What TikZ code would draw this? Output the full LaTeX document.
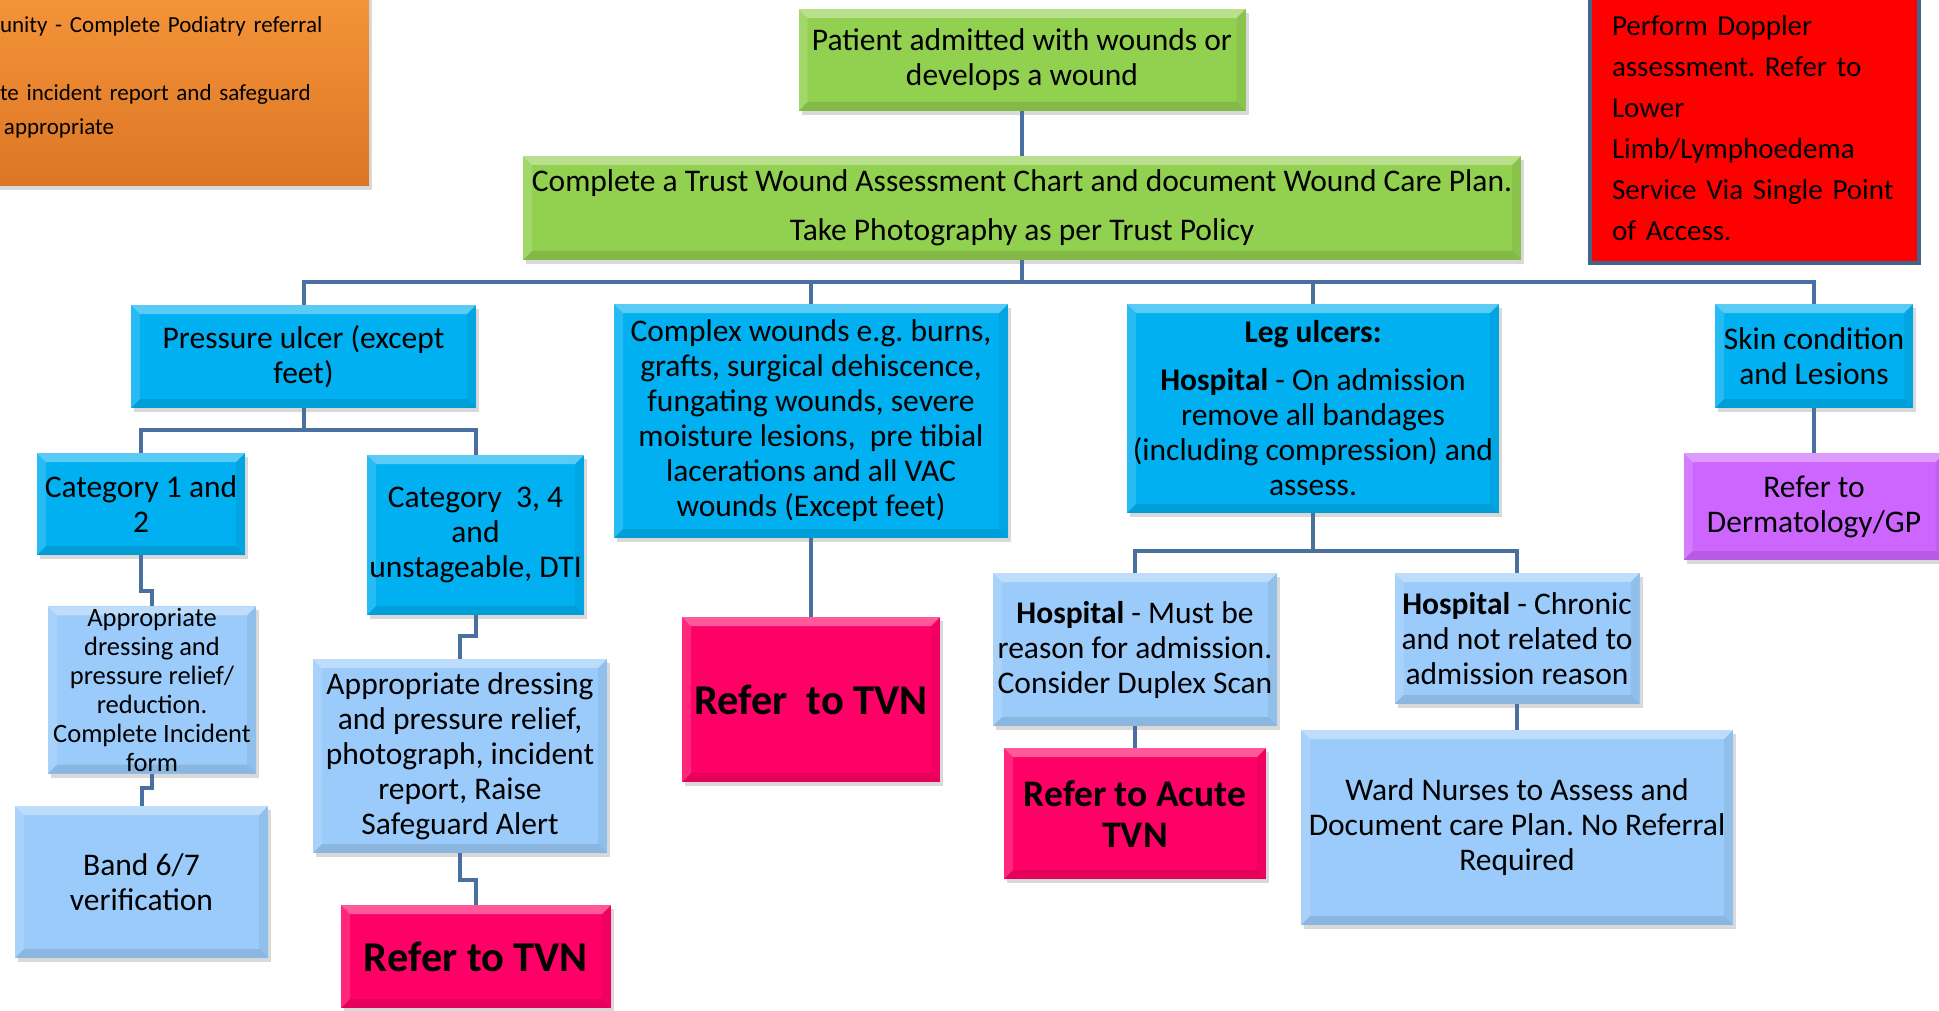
\documentclass[tikz,border=0pt]{standalone}
\usepackage{fontspec}
\setmainfont{Carlito}
\usetikzlibrary{shadows}
\frenchspacing

\definecolor{wgreen}{RGB}{146,208,80}
\definecolor{wblue}{RGB}{0,176,240}
\definecolor{wpale}{RGB}{155,203,250}
\definecolor{wpink}{RGB}{255,0,102}
\definecolor{wpurple}{RGB}{204,102,255}
\definecolor{wred}{RGB}{255,0,0}
\definecolor{wframe}{RGB}{68,100,140}
\definecolor{wlink}{RGB}{74,112,160}
\definecolor{worange}{RGB}{248,152,60}
\definecolor{worangedk}{RGB}{220,118,36}

\tikzset{
  bevel/.style={path picture={
      \fill[white,opacity=.35] (path picture bounding box.north west) -- (path picture bounding box.north east)
        -- ([shift={(-9pt,-9pt)}]path picture bounding box.north east) -- ([shift={(9pt,-9pt)}]path picture bounding box.north west) -- cycle;
      \fill[white,opacity=.15] (path picture bounding box.north west) -- (path picture bounding box.south west)
        -- ([shift={(9pt,9pt)}]path picture bounding box.south west) -- ([shift={(9pt,-9pt)}]path picture bounding box.north west) -- cycle;
      \fill[black,opacity=.10] (path picture bounding box.south west) -- (path picture bounding box.south east)
        -- ([shift={(-9pt,9pt)}]path picture bounding box.south east) -- ([shift={(9pt,9pt)}]path picture bounding box.south west) -- cycle;
      \fill[black,opacity=.06] (path picture bounding box.north east) -- (path picture bounding box.south east)
        -- ([shift={(-9pt,9pt)}]path picture bounding box.south east) -- ([shift={(-9pt,-9pt)}]path picture bounding box.north east) -- cycle;
    }},
  wh/.style 2 args={minimum width=#1pt, minimum height=#2pt},
  wbox/.style={rectangle, align=center, inner sep=2pt, bevel,
               drop shadow={shadow xshift=3pt, shadow yshift=-4pt, opacity=.3}},
  greenbox/.style={wbox, fill=wgreen},
  bluebox/.style={wbox, fill=wblue},
  palebox/.style={wbox, fill=wpale},
  referbox/.style={wbox, fill=wpink, font=\fontsize{42.5}{46}\selectfont\bfseries},
  dermbox/.style={wbox, fill=wpurple},
  conn/.style={draw=wlink, line width=4pt}
}

\begin{document}
\begin{tikzpicture}[x=1pt, y=-1pt, every node/.style={font=\fontsize{31.5}{35}\selectfont}]
  \useasboundingbox (0,0) rectangle (1939,1011);

  \node[rectangle, top color=worange, bottom color=worangedk, wh={379}{217},
        drop shadow={shadow xshift=3pt, shadow yshift=-4pt, opacity=.3},
        align=left, text width=359pt, inner xsep=10pt, font=\fontsize{23}{34}\selectfont]
    (community) at (179.5,77.5)
    {unity - Complete Podiatry referral\\[34pt]te incident report and safeguard\\\hspace*{4pt}appropriate};

  \node[rectangle, fill=wred, draw=wframe, line width=4pt, wh={329}{269},
        align=left, text width=285pt, inner xsep=20pt, font=\fontsize{29}{41}\selectfont]
    (doppler) at (1754.5,128.5)
    {Perform Doppler\\assessment. Refer to\\Lower\\Limb/Lymphoedema\\Service Via Single Point\\of Access.};

  \node[greenbox, wh={447}{102}] (admit) at (1022,60) {Patient admitted with wounds or\\develops a wound};
  \node[greenbox, wh={998}{104}] (assess) at (1022,208)
    {Complete a Trust Wound Assessment Chart and document Wound Care Plan.\\[14pt]Take Photography as per Trust Policy};

  \node[bluebox, wh={345}{103}] (pressure) at (303.5,356.5) {Pressure ulcer (except\\feet)};
  \node[bluebox, wh={394}{234}] (complex) at (811,421)
    {Complex wounds e.g. burns,\\grafts, surgical dehiscence,\\fungating wounds, severe\\moisture lesions,~ pre tibial\\lacerations and all VAC\\wounds (Except feet)};
  \node[bluebox, wh={372}{209}] (leg) at (1313,408.5)
    {\textbf{Leg ulcers:}\\[13pt]\textbf{Hospital} - On admission\\remove all bandages\\(including compression) and\\assess.};
  \node[bluebox, wh={198}{104}] (skin) at (1814,356) {Skin condition\\and Lesions};

  \node[bluebox, wh={208}{102}] (cat12) at (141,504) {Category 1 and\\2};
  \node[bluebox, wh={217}{160}] (cat34) at (475.5,535) {Category~~3, 4\\and\\unstageable, DTI};
  \node[palebox, wh={208}{160}, font=\fontsize{26.5}{29}\selectfont] (dresssmall) at (152,690)
    {Appropriate\\dressing and\\pressure relief/\\reduction.\\Complete Incident\\form};
  \node[palebox, wh={253}{152}] (band) at (141.5,882) {Band 6/7\\verification};
  \node[palebox, wh={294}{194}] (dressbig) at (460,756)
    {Appropriate dressing\\and pressure relief,\\photograph, incident\\report, Raise\\Safeguard Alert};
  \node[referbox, wh={270}{103}] (tvnleft) at (476,956.5) {Refer to TVN};

  \node[referbox, wh={258}{165}] (tvnmid) at (811,699.5) {Refer~ to TVN};

  \node[palebox, wh={284}{153}] (legacute) at (1135,649.5)
    {\textbf{Hospital} - Must be\\reason for admission.\\Consider Duplex Scan};
  \node[palebox, wh={245}{131}] (legchronic) at (1517,638.5)
    {\textbf{Hospital} - Chronic\\and not related to\\admission reason};
  \node[referbox, wh={262}{131}, font=\fontsize{37.5}{41}\selectfont\bfseries] (acute) at (1135,813.5) {Refer to Acute\\TVN};
  \node[palebox, wh={432}{195}] (ward) at (1517,827.5)
    {Ward Nurses to Assess and\\Document care Plan. No Referral\\Required};

  \node[dermbox, wh={261}{107}] (derm) at (1814,506.5) {Refer to\\Dermatology/GP};

  \coordinate (bus) at (0,282);
  \coordinate (pubus) at (0,430);
  \coordinate (legbus) at (0,551);

  \draw[conn] (admit.south) -- (assess.north);
  \draw[conn] (assess.south) -- (assess.south |- bus);
  \draw[conn] (pressure.north) |- (skin.north |- bus) -- (skin.north);
  \draw[conn] (complex.north) -- (complex.north |- bus);
  \draw[conn] (leg.north) -- (leg.north |- bus);

  \draw[conn] (pressure.south) -- (pressure.south |- pubus);
  \draw[conn] (cat12.north) |- (cat34.north |- pubus) -- (cat34.north);
  \draw[conn] (cat12.south) |- (dresssmall.north |- 0,591) -- (dresssmall.north);
  \draw[conn] (dresssmall.south) |- (band.north |- 0,788) -- (band.north);
  \draw[conn] (cat34.south) |- (dressbig.north |- 0,636) -- (dressbig.north);
  \draw[conn] (dressbig.south) |- (tvnleft.north |- 0,880) -- (tvnleft.north);

  \draw[conn] (complex.south) -- (tvnmid.north);

  \draw[conn] (leg.south) -- (leg.south |- legbus);
  \draw[conn] (legacute.north) |- (legchronic.north |- legbus) -- (legchronic.north);
  \draw[conn] (legacute.south) -- (acute.north);
  \draw[conn] (legchronic.south) -- (ward.north);

  \draw[conn] (skin.south) -- (derm.north);
\end{tikzpicture}
\end{document}
